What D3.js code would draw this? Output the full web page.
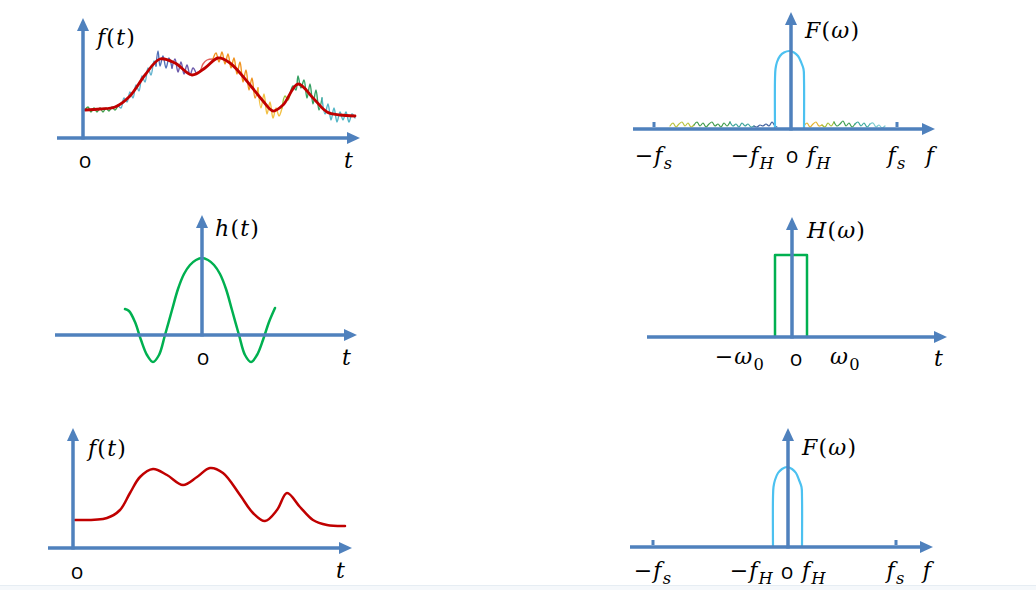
<!DOCTYPE html>
<html><head><meta charset="utf-8">
<script src="https://cdn.jsdelivr.net/npm/d3@7"></script>
<style>body{margin:0;background:#fff}svg{display:block}</style>
</head><body>
<script>
// ---------------- DATA ----------------
// Panel 1: sampled signal f(t) (smooth) and noisy fragments (t, value)
const signalTop = [[2,28],[17,29],[32,31],[47,42],[62,63],[77,79],[92,75],[109,63],[122,70],[135,80],[147,75],[167,53],[180,37],[190,27],[200,33],[215,54],[230,40],[244,26],[257,23],[272,22]];
const noiseA = [[2,28],[5,31],[8,26],[11,30],[14,26],[17,30],[20,26],[23,30],[26,27],[29,31],[32,28],[35,33]];
const noiseB = [[35,33],[38,30],[41,40],[44,36],[47,46],[50,40],[53,53],[56,47],[59,62],[62,56],[65,70],[68,63],[71,77],[73,72]];
const noiseC = [[73,72],[75,87],[77,72],[80,82],[83,70],[86,80],[89,70]];
const noiseD = [[89,70],[92,79],[95,66],[98,76],[101,64],[104,73],[107,63],[110,70],[113,65]];
const noiseE = [[113,65],[117,67],[120,74],[124,78],[130,79]];
const noiseF = [[130,79],[133,85],[136,76],[139,86],[142,74],[145,84],[148,70],[151,80],[154,64],[157,76],[160,56],[163,68],[166,48],[169,60],[172,40],[175,50]];
const noiseG = [[175,50],[178,30],[181,44],[184,24],[187,36],[190,20],[193,30],[196,22],[199,30]];
const noiseH = [[199,30],[202,42],[205,38],[207,44]];
const noiseI = [[207,44],[210,52],[213,48],[215,62],[218,50],[221,58],[224,40],[227,54],[230,34],[233,48],[236,28],[239,40]];
const noiseJ = [[239,40],[242,24],[245,34],[248,18],[251,30],[254,16],[257,26],[260,18],[263,26],[266,16],[269,24],[272,20]];

// Panel 2: spectrum F(w) of noisy signal
const specTop = [[-16,0],[-16,50],[-15.5,60],[-14,67],[-11,73],[-7,76.5],[-1.5,78],[3,76.5],[7,73],[10,67],[12.5,60],[13,50],[13,0]];
const specNoiseL1 = [[-121,3],[-118,6],[-115,2],[-112,5],[-109,7],[-106,3],[-103,6],[-100,2],[-97,4]];
const specNoiseL2 = [[-97,4],[-94,7],[-91,3],[-88,6],[-85,2],[-82,5],[-79,7],[-76,3],[-73,5],[-70,2],[-67,6],[-64,3],[-61,7]];
const specNoiseL3 = [[-61,7],[-58,3],[-55,5],[-52,2],[-49,6],[-46,3],[-43,5],[-40,2],[-37,3]];
const specNoiseL4 = [[-37,3],[-34,2],[-31,4],[-28,3],[-25,5],[-22,3],[-19,7],[-16,3],[-14,2]];
const specNoiseR1 = [[13,3],[16,6],[19,2],[22,5],[25,7],[28,3],[31,4]];
const specNoiseR2 = [[31,4],[34,2],[37,6],[40,3],[43,7]];
const specNoiseR3 = [[43,7],[46,3],[49,5],[52,8],[55,3],[58,6],[61,2],[64,5]];
const specNoiseR4 = [[64,5],[67,7],[70,3],[73,6],[76,2],[79,5]];
const specNoiseR5 = [[79,5],[82,6],[85,2],[88,4],[91,1],[94,3]];
const fsTicks = [-137, 106];

// Panel 3: impulse response h(t)
const impulse = [[-77,26],[-73,24],[-67,13],[-61,-5],[-55,-20],[-49,-27],[-43,-20],[-37,0],[-30,25],[-24,46],[-18,61],[-12,70],[-6,75],[0,77],[6,75],[12,70],[18,61],[24,46],[30,25],[37,0],[43,-20],[49,-27],[55,-20],[61,-5],[67,13],[73,27]];

// Panel 4: ideal low-pass H(w)
const lowpass = [[-17,0],[-17,82],[15,82],[15,0]];

// Panel 5: filtered signal f(t)
const signalBottom = [[2,28],[34,30],[47,38],[57,55],[67,71],[80,79],[94,73],[110,63],[124,71],[137,80],[150,75],[167,53],[180,35],[192,27],[204,38],[214,55],[227,41],[240,28],[254,23],[272,22]];

// Panel 6: band-limited spectrum
const specBottom = [[-15,0],[-15,50],[-14.5,60],[-13,67],[-10,74],[-6,78],[-1,80],[4,78],[8,74],[11,67],[13.5,60],[14,50],[14,0]];
const fsTicksBottom = [-135, 108];

// Tick / axis labels (text parts)
const lblFt = [{s:'f',i:1},{s:'('},{s:'t',i:1},{s:')'}];
const lblFw = [{s:'F',i:1},{s:'('},{s:'ω',i:1},{s:')'}];
const lblHt = [{s:'h',i:1},{s:'('},{s:'t',i:1},{s:')'}];
const lblHw = [{s:'H',i:1},{s:'('},{s:'ω',i:1},{s:')'}];
const lblT = [{s:'t',i:1}];
const lblF = [{s:'f',i:1}];
const lblNegFs = [{s:'−'},{s:'f',i:1},{s:'s',i:1,sub:1}];
const lblFs = [{s:'f',i:1},{s:'s',i:1,sub:1}];
const lblNegFH = [{s:'−'},{s:'f',i:1},{s:'H',i:1,sub:1}];
const lblFH = [{s:'f',i:1},{s:'H',i:1,sub:1}];
const lblNegW0 = [{s:'−'},{s:'ω',i:1},{s:'0',sub:1}];
const lblW0 = [{s:'ω',i:1},{s:'0',sub:1}];

// ---------------- DRAW ----------------
const W = 1036, H = 590;
const AX = '#4f81bd', RED = '#c00000', GREEN = '#00b050', CYAN = '#4cc1f0';
const svg = d3.select('body').append('svg').attr('width', W).attr('height', H);
svg.append('rect').attr('width', W).attr('height', H).attr('fill', '#fff');
svg.append('rect').attr('x', 0).attr('y', 585).attr('width', W).attr('height', 5).attr('fill', '#f5f8fb');
svg.append('line').attr('x1', 0).attr('x2', W).attr('y1', 585.5).attr('y2', 585.5).attr('stroke', '#e6edf3');

const SERIF = "'DejaVu Serif', serif";
const SANS = "'Open Sans', 'Liberation Sans', sans-serif";
const FS = 22;

function panel(xr, yr, xd, yd) {
  return { x: d3.scaleLinear().domain(xd).range(xr), y: d3.scaleLinear().domain(yd).range(yr), xd, yd };
}
function axes(p) {
  const g = svg.append('g');
  const y0 = p.y(0), x0 = p.x(0);
  const hx0 = p.x(p.xd[0]), hx1 = p.x(p.xd[1]);
  const vy1 = p.y(p.yd[1]);
  const L = 13, Wd = 6;
  g.append('line').attr('x1', hx0).attr('x2', hx1 - L + 1).attr('y1', y0).attr('y2', y0).attr('stroke', AX).attr('stroke-width', 3.5);
  g.append('path').attr('d', `M${hx1},${y0}L${hx1 - L},${y0 - Wd}L${hx1 - L},${y0 + Wd}Z`).attr('fill', AX);
  g.append('line').attr('x1', x0).attr('x2', x0).attr('y1', y0 + 1.5).attr('y2', vy1 + L - 1).attr('stroke', AX).attr('stroke-width', 3.5);
  g.append('path').attr('d', `M${x0},${vy1}L${x0 - Wd},${vy1 + L}L${x0 + Wd},${vy1 + L}Z`).attr('fill', AX);
}
function curve(p, data, color, w, cv) {
  const line = d3.line().x(d => p.x(d[0])).y(d => p.y(d[1])).curve(cv || d3.curveCatmullRom.alpha(0.5));
  svg.append('path').datum(data).attr('d', line).attr('fill', 'none').attr('stroke', color).attr('stroke-width', w).attr('stroke-linejoin', 'round').attr('stroke-linecap', 'round');
}
function label(x, y, parts, size, anchor) {
  const t = svg.append('text').attr('x', x).attr('y', y).attr('font-family', SERIF).attr('font-size', size).attr('fill', '#000').attr('text-anchor', anchor || 'start').attr('letter-spacing', 1.2);
  let down = false;
  parts.forEach(pt => {
    const ts = t.append('tspan').text(pt.s);
    if (pt.i) ts.attr('font-style', 'italic');
    if (pt.sub) { ts.attr('font-size', size * 0.74); if (!down) { ts.attr('dy', size * 0.28); down = true; } }
    else if (down) { ts.attr('dy', -size * 0.28); down = false; }
  });
  return t;
}
function origin(x, y) {
  svg.append('text').attr('x', x).attr('y', y).attr('font-family', SANS).attr('font-size', 21).attr('text-anchor', 'middle').text('o');
}
function ticks(p, vals) {
  vals.forEach(v => svg.append('rect').attr('x', p.x(v) - 1.5).attr('y', p.y(0) - 7).attr('width', 3).attr('height', 5).attr('fill', AX));
}

// Panel 1
const p1 = panel([57, 360], [138, 18], [-26, 277], [0, 120]);
const noiseColors1 = [[noiseA,'#3f9f4c'],[noiseB,'#5fb1cc'],[noiseC,'#4f6fb7'],[noiseD,'#6c5aab'],[noiseE,'#e2645e'],[noiseF,'#f0921e'],[noiseG,'#f2c043'],[noiseH,'#9dc23a'],[noiseI,'#35a062'],[noiseJ,'#52b5c6']];
noiseColors1.forEach(([d, c]) => curve(p1, d, c, 1.4));
curve(p1, signalTop, RED, 2.8);
axes(p1);
label(p1.x(14), 45, lblFt, FS);
origin(p1.x(2), 168);
label(p1.x(p1.xd[1]) - 6, 168, lblT, FS, 'end');

// Panel 2
const p2 = panel([633, 935], [129, 12], [-158, 144], [0, 117]);
const noiseColors2 = [[specNoiseL1,'#b8c23c'],[specNoiseL2,'#3f9b4b'],[specNoiseL3,'#3aa39a'],[specNoiseL4,'#3e5f9c'],[specNoiseR1,'#e2b12e'],[specNoiseR2,'#a6bf38'],[specNoiseR3,'#3e9e52'],[specNoiseR4,'#3aa89c'],[specNoiseR5,'#7ccbd0']];
noiseColors2.forEach(([d, c]) => curve(p2, d, c, 1.2));
curve(p2, specTop, CYAN, 2.2);
axes(p2);
ticks(p2, fsTicks);
label(p2.x(14), 38, lblFw, FS);
label(p2.x(fsTicks[0]), 163, lblNegFs, FS, 'middle');
label(p2.x(-16), 163, lblNegFH, FS, 'end');
origin(p2.x(1), 163);
label(p2.x(16), 163, lblFH, FS);
label(p2.x(fsTicks[1]), 163, lblFs, FS, 'middle');
label(p2.x(p2.xd[1]), 163, lblF, FS, 'end');

// Panel 3
const p3 = panel([55, 357], [335, 215], [-147, 155], [0, 120]);
curve(p3, impulse, GREEN, 2.5);
axes(p3);
label(p3.x(13), 236, lblHt, FS);
origin(p3.x(1), 365);
label(p3.x(p3.xd[1]) - 5, 365, lblT, FS, 'end');

// Panel 4
const p4 = panel([647, 947], [337, 217], [-145, 155], [0, 120]);
curve(p4, lowpass, GREEN, 2.5, d3.curveLinear);
axes(p4);
label(p4.x(15), 238, lblHw, FS);
label(p4.x(-27), 364, lblNegW0, FS, 'end');
origin(p4.x(4), 366);
label(p4.x(38), 364, lblW0, FS);
label(p4.x(p4.xd[1]) - 3, 366, lblT, FS, 'end');

// Panel 5
const p5 = panel([48, 352], [548, 428], [-25, 279], [0, 120]);
curve(p5, signalBottom, RED, 2.5);
axes(p5);
label(p5.x(15), 456, lblFt, FS);
origin(p5.x(4), 579);
label(p5.x(p5.xd[1]) - 6, 578, lblT, FS, 'end');

// Panel 6
const p6 = panel([630, 933], [547, 428], [-158, 145], [0, 119]);
curve(p6, specBottom, CYAN, 2.2);
axes(p6);
ticks(p6, fsTicksBottom);
label(p6.x(14), 455, lblFw, FS);
label(p6.x(fsTicksBottom[0]), 578, lblNegFs, FS, 'middle');
label(p6.x(-14), 578, lblNegFH, FS, 'end');
origin(p6.x(-1), 579);
label(p6.x(14), 578, lblFH, FS);
label(p6.x(fsTicksBottom[1]), 578, lblFs, FS, 'middle');
label(p6.x(p6.xd[1]) - 1, 578, lblF, FS, 'end');
</script>
</body></html>
